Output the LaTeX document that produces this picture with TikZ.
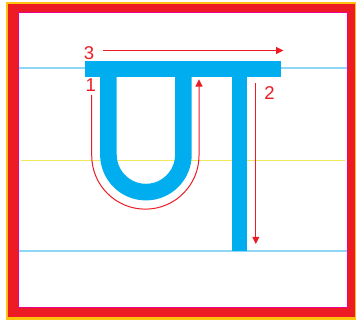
\documentclass[tikz,border=0pt]{standalone}
\usepackage{fontspec}
\setmainfont{Liberation Sans}
\usetikzlibrary{arrows.meta}
\definecolor{frameyellow}{HTML}{FFC20E}
\definecolor{framered}{HTML}{ED1C24}
\definecolor{framemag}{HTML}{EC008C}
\definecolor{glyphblue}{HTML}{00AEEF}
\definecolor{guideblue}{HTML}{8ED6F6}
\definecolor{guideyellow}{HTML}{F2E85A}
\definecolor{strokered}{HTML}{ED1C24}
\tikzset{
  guideline/.style={guideblue,line width=2pt},
  midline/.style={guideyellow,line width=1.5pt},
  glyph/.style={glyphblue},
  strokepath/.style={strokered,line width=1pt,-{Triangle[length=7.2pt,width=7pt]}},
  numlabel/.style={strokered,inner sep=0pt,font=\fontsize{18.5}{18.5}\selectfont}
}
\begin{document}
\begin{tikzpicture}[x=1pt,y=-1pt]
\useasboundingbox (0,0) rectangle (356,324);
% frame
\fill[white] (0,0) rectangle (356,324);
\fill[frameyellow] (5.7,1.6) rectangle (357,319.5);
\fill[framered] (8,4) rectangle (355,317);
\filldraw[fill=white,draw=framemag,line width=1pt] (18.5,12.5) rectangle (347,307);
% guide lines
\coordinate (gt1) at (18.5,68.3); \coordinate (gt2) at (347,68.3);
\coordinate (gm1) at (21,160.3); \coordinate (gm2) at (344.7,160.3);
\coordinate (gb1) at (18.5,251.2); \coordinate (gb2) at (347,251.2);
\draw[guideline] (gt1) -- (gt2);
\draw[midline] (gm1) -- (gm2);
\draw[guideline] (gb1) -- (gb2);
% glyph
\fill[glyph] (85,61) rectangle (281.3,77.3);
\draw[glyph,line width=16.6pt] (108.4,70) -- (108.4,154.6) arc[start angle=180,end angle=0,radius=37.5] -- (183.4,70);
\fill[glyph] (232,70) rectangle (247.3,250.5);
% stroke order
\coordinate (s1a) at (91.7,95);
\coordinate (s1b) at (91.7,155.5);
\coordinate (s1c) at (199,79.3);
\draw[strokepath] (s1a) -- (s1b) arc[start angle=180,end angle=0,radius=53.65] -- (s1c);
\coordinate (s2a) at (255.8,83);
\coordinate (s2b) at (255.8,244);
\draw[strokepath] (s2a) -- (s2b);
\coordinate (s3a) at (103,50.5);
\coordinate (s3b) at (283.3,50.5);
\draw[strokepath] (s3a) -- (s3b);
\node[numlabel] (n3) at (89,53.3) {3};
\node[numlabel] (n1) at (90.8,85.5) {1};
\node[numlabel] (n2) at (269.5,93) {2};
\end{tikzpicture}
\end{document}
